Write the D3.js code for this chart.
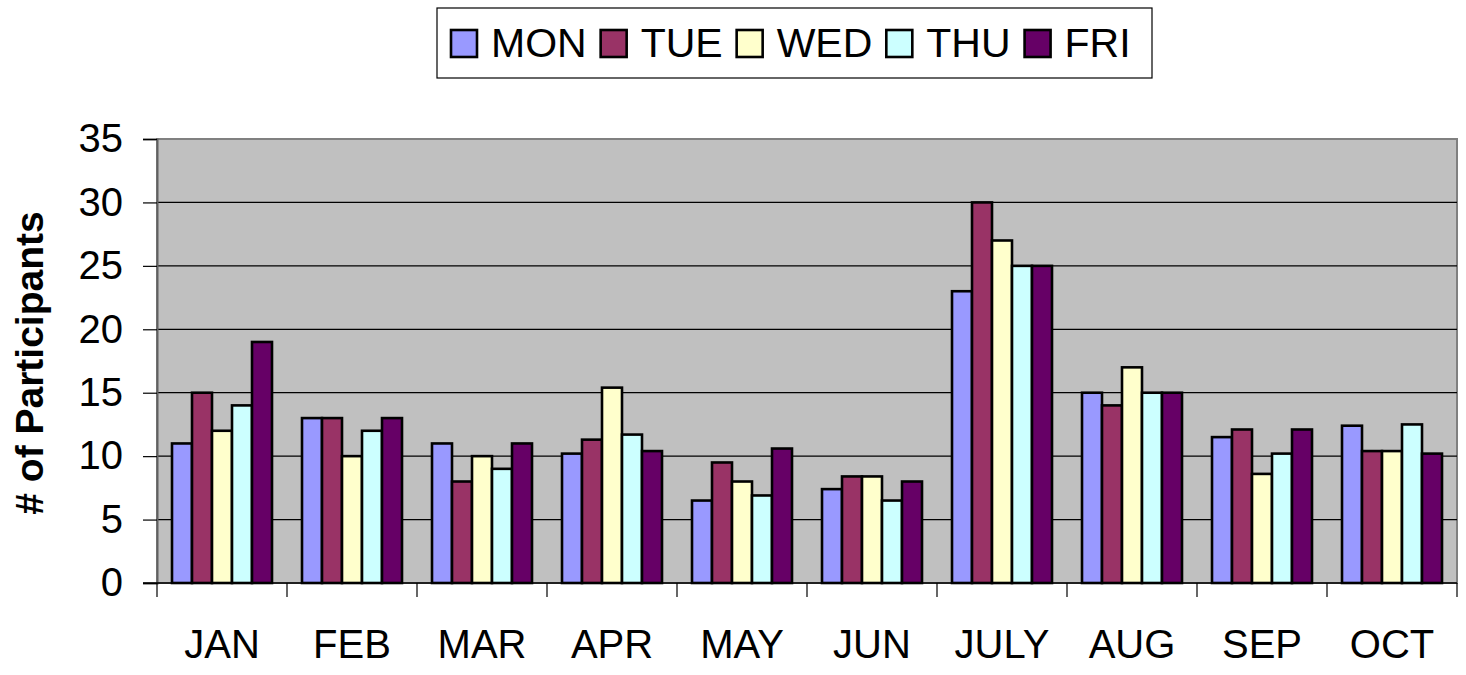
<!DOCTYPE html>
<html>
<head>
<meta charset="utf-8">
<script src="https://cdn.jsdelivr.net/npm/d3@7"></script>
<style>
  body { margin: 0; background: #fff; }
  svg { display: block; font-family: "Liberation Sans", Arial, sans-serif; }
  .grid line { stroke: #000; stroke-width: 1.2; }
  .bar { stroke: #000; stroke-width: 2.6; }
</style>
</head>
<body>
<svg width="1466" height="675"></svg>
<script>
var months = ["JAN", "FEB", "MAR", "APR", "MAY", "JUN", "JULY", "AUG", "SEP", "OCT"];
var days = ["MON", "TUE", "WED", "THU", "FRI"];
var colors = ["#9999ff", "#993366", "#ffffcc", "#ccffff", "#660066"];
var yTicks = [0, 5, 10, 15, 20, 25, 30, 35];

var mon = [11, 13, 11, 10.2, 6.5, 7.4, 23, 15, 11.5, 12.4];
var tue = [15, 13, 8, 11.3, 9.5, 8.4, 30, 14, 12.1, 10.4];
var wed = [12, 10, 10, 15.4, 8, 8.4, 27, 17, 8.6, 10.4];
var thu = [14, 12, 9, 11.7, 6.9, 6.5, 25, 15, 10.2, 12.5];
var fri = [19, 13, 11, 10.4, 10.6, 8, 25, 15, 12.1, 10.2];
var series = [mon, tue, wed, thu, fri];

var svg = d3.select("svg"),
    plotLeft = 157, plotRight = 1457, plotTop = 139, plotBottom = 583;

var x = d3.scaleBand().domain(months).range([plotLeft, plotRight]);
var xi = d3.scaleBand().domain(days).range([0, x.bandwidth()]).paddingOuter(0.75).paddingInner(0);
var y = d3.scaleLinear().domain([0, 35]).range([plotBottom, plotTop]);

// plot area
svg.append("rect")
    .attr("x", plotLeft).attr("y", plotTop)
    .attr("width", plotRight - plotLeft).attr("height", plotBottom - plotTop)
    .attr("fill", "#c0c0c0")
    .attr("stroke", "#808080").attr("stroke-width", 2);

svg.append("g").attr("class", "grid")
    .selectAll("line")
    .data(yTicks.filter(function (d) { return d > 0 && d < 35; }))
    .enter().append("line")
    .attr("x1", plotLeft).attr("x2", plotRight)
    .attr("y1", function (d) { return y(d); })
    .attr("y2", function (d) { return y(d); });

// bars
var rows = [];
months.forEach(function (m, i) {
    days.forEach(function (d, j) {
        rows.push({month: m, day: d, k: j, value: series[j][i]});
    });
});

svg.append("g").selectAll("rect")
    .data(rows)
    .enter().append("rect")
    .attr("class", "bar")
    .attr("x", function (d) { return x(d.month) + xi(d.day); })
    .attr("y", function (d) { return y(d.value); })
    .attr("width", xi.bandwidth())
    .attr("height", function (d) { return y(0) - y(d.value); })
    .attr("fill", function (d) { return colors[d.k]; });

// y axis
var yAxis = svg.append("g")
    .attr("transform", "translate(" + plotLeft + ",0)")
    .call(d3.axisLeft(y).tickValues(yTicks).tickSize(14).tickPadding(20));
yAxis.select(".domain").attr("stroke", "#606060").attr("stroke-width", 2);
yAxis.selectAll(".tick line").attr("stroke", "#000").attr("stroke-width", 1.2);
yAxis.selectAll("text")
    .attr("font-size", 40).attr("fill", "#000")
    .style("font-family", "Liberation Sans, Arial, sans-serif");

// x axis
svg.append("line")
    .attr("x1", plotLeft - 14).attr("x2", plotRight)
    .attr("y1", plotBottom).attr("y2", plotBottom)
    .attr("stroke", "#000").attr("stroke-width", 1.5);

svg.append("g").selectAll("line")
    .data(months.concat(["end"]))
    .enter().append("line")
    .attr("x1", function (d) { return d === "end" ? plotRight : x(d); })
    .attr("x2", function (d) { return d === "end" ? plotRight : x(d); })
    .attr("y1", plotBottom).attr("y2", plotBottom + 14)
    .attr("stroke", "#000").attr("stroke-width", 1.2);

var xAxis = svg.append("g")
    .attr("transform", "translate(0," + plotBottom + ")")
    .call(d3.axisBottom(x).tickSize(0).tickPadding(47));
xAxis.select(".domain").remove();
xAxis.selectAll("text")
    .attr("font-size", 40).attr("fill", "#000")
    .style("font-family", "Liberation Sans, Arial, sans-serif");

// y title
svg.append("text")
    .attr("transform", "translate(43,363) rotate(-90)")
    .attr("text-anchor", "middle")
    .attr("font-size", 39)
    .attr("font-weight", "bold")
    .text("# of Participants");

// legend
var legend = svg.append("g");
legend.append("rect")
    .attr("x", 437).attr("y", 8)
    .attr("width", 715).attr("height", 70)
    .attr("fill", "#fff").attr("stroke", "#000").attr("stroke-width", 1.2);

var lx = 451;
days.forEach(function (d, j) {
    legend.append("rect")
        .attr("x", lx).attr("y", 30)
        .attr("width", 26).attr("height", 27)
        .attr("fill", colors[j]).attr("stroke", "#000").attr("stroke-width", 2.6);
    var t = legend.append("text")
        .attr("x", lx + 40).attr("y", 57)
        .attr("font-size", 41)
        .text(d);
    lx = lx + 40 + t.node().getComputedTextLength() + 14;
});
</script>
</body>
</html>
